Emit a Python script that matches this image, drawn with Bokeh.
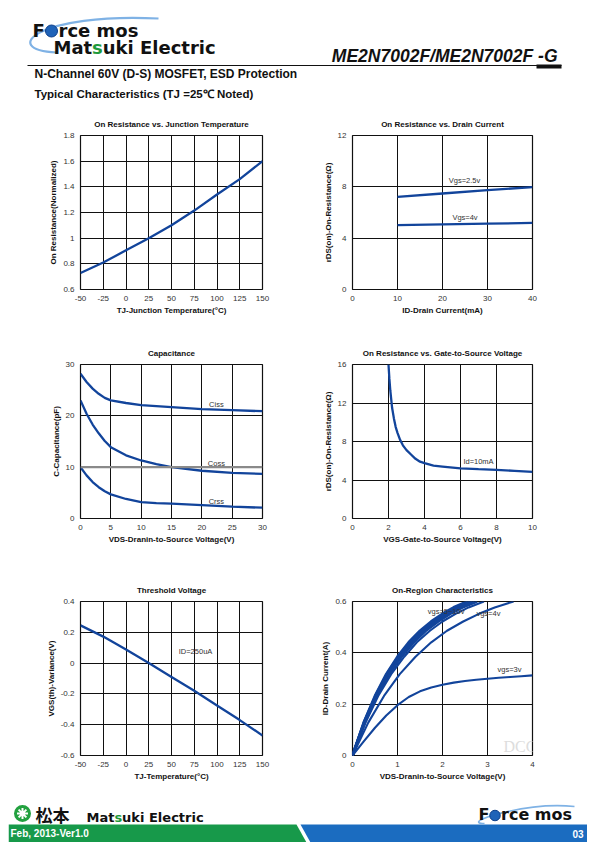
from bokeh.plotting import figure
from bokeh.layouts import column, row
from bokeh.models import Range1d, FixedTicker, NumeralTickFormatter, Span, Label
from bokeh.core.properties import value
from bokeh.embed import file_html
from bokeh.resources import INLINE

# ---------------- data ----------------
# Chart 1: On Resistance vs. Junction Temperature
tj1 = [-50, -25, 0, 25, 50, 75, 100, 125, 150]
rdson_norm = [0.728, 0.81, 0.905, 1.0, 1.1, 1.215, 1.34, 1.46, 1.6]

# Chart 2: On Resistance vs. Drain Current
id2 = [10, 20, 30, 40]
r_vgs25 = [7.22, 7.48, 7.74, 7.98]
r_vgs4 = [5.01, 5.07, 5.13, 5.19]

# Chart 3: Capacitance
vds3 = [0, 1, 2, 3, 4, 5, 7.5, 10, 12.5, 15, 20, 25, 30]
ciss = [28.2, 26.6, 25.3, 24.3, 23.5, 23.0, 22.5, 22.1, 21.9, 21.7, 21.3, 21.1, 20.9]
coss = [23.0, 20.4, 18.3, 16.6, 15.1, 13.9, 12.3, 11.3, 10.6, 10.0, 9.3, 8.9, 8.7]
crss = [10.0, 8.4, 7.1, 6.1, 5.3, 4.7, 3.8, 3.2, 3.0, 2.9, 2.6, 2.3, 2.1]

# Chart 4: On Resistance vs. Gate-to-Source Voltage
vgs4 = [2.0, 2.05, 2.1, 2.2, 2.3, 2.4, 2.5, 2.65, 2.8, 3.0, 3.25, 3.5, 3.75, 4.0, 4.5, 5, 6, 7, 8, 9, 10]
rds4 = [16, 14.5, 13.3, 11.5, 10.4, 9.5, 8.9, 8.15, 7.6, 7.1, 6.65, 6.2, 5.9, 5.75, 5.5, 5.4, 5.2, 5.12, 5.05, 4.95, 4.85]

# Chart 5: Threshold Voltage
tj5 = [-50, -25, 0, 25, 50, 75, 100, 125, 150]
vth_var = [0.245, 0.172, 0.088, 0.0, -0.09, -0.18, -0.275, -0.37, -0.47]

# Chart 6: On-Region Characteristics
id6 = [0, 0.128, 0.232, 0.317, 0.385, 0.441, 0.486, 0.522, 0.552, 0.577, 0.6]
vds6_10v = [0, 0.25, 0.5, 0.75, 1.0, 1.25, 1.5, 1.75, 2.0, 2.25, 2.55]
vds6_8v = [0, 0.255, 0.51, 0.765, 1.02, 1.275, 1.53, 1.785, 2.04, 2.295, 2.6]
vds6_7v = [0, 0.26, 0.52, 0.78, 1.04, 1.3, 1.56, 1.82, 2.08, 2.34, 2.65]
vds6_6v = [0, 0.265, 0.53, 0.795, 1.06, 1.325, 1.59, 1.855, 2.12, 2.385, 2.7]
vds6_5v = [0, 0.27, 0.54, 0.81, 1.09, 1.36, 1.63, 1.9, 2.17, 2.44, 2.77]
vds6_45v = [0, 0.29, 0.57, 0.86, 1.15, 1.43, 1.72, 2.0, 2.29, 2.58, 2.92]
vds6_4v = [0, 0.35, 0.7, 1.05, 1.4, 1.75, 2.1, 2.46, 2.81, 3.16, 3.58]
vds6_3v = [0, 0.25, 0.5, 0.75, 1.0, 1.25, 1.5, 1.75, 2.0, 2.25, 2.5, 2.75, 3.0, 3.25, 3.5, 3.75, 4.0]
id6_3v = [0, 0.055, 0.108, 0.156, 0.196, 0.228, 0.25, 0.265, 0.276, 0.284, 0.29, 0.295, 0.299, 0.303, 0.306, 0.309, 0.312]

FONT = "Liberation Sans"
BLUE = "#12449b"


def chart(w, h, mbl, mbr, mbt, mbb, xr, yr, xt, yt, title, xlab, ylab, xfmt="0", yfmt="0.[0]"):
    p = figure(width=w, height=h, x_range=Range1d(*xr), y_range=Range1d(*yr),
               output_backend="svg", toolbar_location=None,
               min_border_left=mbl, min_border_right=mbr,
               min_border_top=mbt, min_border_bottom=mbb, title=title)
    p.title.align = "center"
    p.title.text_font = FONT
    p.title.text_font_size = "8px"
    p.title.text_font_style = "bold"
    p.title.text_color = "#111111"
    p.title.standoff = 14
    p.xaxis.ticker = FixedTicker(ticks=xt)
    p.yaxis.ticker = FixedTicker(ticks=yt)
    p.xaxis.formatter = NumeralTickFormatter(format=xfmt)
    p.yaxis.formatter = NumeralTickFormatter(format=yfmt)
    p.xaxis.axis_label = xlab
    p.yaxis.axis_label = ylab
    for ax in (p.xaxis, p.yaxis):
        ax.major_tick_line_color = None
        ax.minor_tick_line_color = None
        ax.axis_line_color = None
        ax.major_label_text_font = FONT
        ax.major_label_text_font_size = "8px"
        ax.major_label_text_color = "#333333"
        ax.major_label_standoff = 0
        ax.axis_label_text_font = FONT
        ax.axis_label_text_font_size = "8px"
        ax.axis_label_text_font_style = "bold"
        ax.axis_label_text_color = "#111111"
        ax.axis_label_standoff = 2
    p.yaxis.major_label_orientation = "horizontal"
    p.grid.grid_line_color = "#111111"
    p.grid.grid_line_width = 1
    p.outline_line_color = "#111111"
    p.outline_line_width = 1.2
    p.background_fill_color = "white"
    p.border_fill_color = "white"
    return p


def lab(p, x, y, t, size="7.5px"):
    p.text(x=[x], y=[y], text=[t], text_font=value(FONT), text_font_size=size,
           text_color="#333333", text_align="center", text_baseline="middle")


# layout geometry (left col 282 wide, right col 297 wide)
LW, RW = 282, 297

# Row 1
c1 = chart(LW, 227, 72, 28, 27, 46, (-50, 150), (0.6, 1.8), tj1, [0.6, 0.8, 1.0, 1.2, 1.4, 1.6, 1.8],
           "On Resistance vs. Junction Temperature", "TJ-Junction Temperature(°C)", "On Resistance(Normalized)")
c1.line(tj1, rdson_norm, line_color=BLUE, line_width=2.3)

c2 = chart(RW, 227, 62, 55, 27, 46, (0, 40), (0, 12), [0, 10, 20, 30, 40], [0, 4, 8, 12],
           "On Resistance vs. Drain Current", "ID-Drain Current(mA)", "rDS(on)-On-Resistance(Ω)")
c2.line(id2, r_vgs25, line_color=BLUE, line_width=2.3)
c2.line(id2, r_vgs4, line_color=BLUE, line_width=2.3)
lab(c2, 24.9, 8.46, "Vgs=2.5v")
lab(c2, 25.0, 5.63, "Vgs=4v")

# Row 2
c3 = chart(LW, 240, 72, 28, 29, 57, (0, 30), (0, 30), [0, 5, 10, 15, 20, 25, 30], [0, 10, 20, 30],
           "Capacitance", "VDS-Dranin-to-Source Voltage(V)", "C-Capacitance(pF)")
c3.add_layout(Span(location=10, dimension="width", line_color="#8a8a8a", line_width=2.2))
c3.line(vds3, ciss, line_color=BLUE, line_width=2.3)
c3.line(vds3, coss, line_color=BLUE, line_width=2.3)
c3.line(vds3, crss, line_color=BLUE, line_width=2.3)
lab(c3, 22.4, 22.2, "Ciss")
lab(c3, 22.4, 10.8, "Coss")
lab(c3, 22.4, 3.35, "Crss")

c4 = chart(RW, 240, 62, 55, 29, 57, (0, 10), (0, 16), [0, 2, 4, 6, 8, 10], [0, 4, 8, 12, 16],
           "On Resistance vs. Gate-to-Source Voltage", "VGS-Gate-to-Source Voltage(V)", "rDS(on)-On-Resistance(Ω)")
c4.line(vgs4, rds4, line_color=BLUE, line_width=2.3)
lab(c4, 7.0, 5.91, "Id=10mA")

# Row 3
c5 = chart(LW, 225, 72, 28, 26, 45, (-50, 150), (-0.6, 0.4), tj5, [-0.6, -0.4, -0.2, 0, 0.2, 0.4],
           "Threshold Voltage", "TJ-Temperature(°C)", "VGS(th)-Variance(V)")
c5.line(tj5, vth_var, line_color=BLUE, line_width=2.3)
lab(c5, 76.4, 0.077, "ID=250uA")

c6 = chart(RW, 225, 62, 55, 26, 45, (0, 4), (0, 0.6), [0, 1, 2, 3, 4], [0, 0.2, 0.4, 0.6],
           "On-Region Characteristics", "VDS-Dranin-to-Source Voltage(V)", "ID-Drain Current(A)")
for xs in (vds6_10v, vds6_8v, vds6_7v, vds6_6v, vds6_5v):
    c6.line(xs, id6, line_color=BLUE, line_width=2.8, line_join="round")
c6.line(vds6_45v, id6, line_color=BLUE, line_width=2.1, line_join="round")
c6.line(vds6_4v, id6, line_color=BLUE, line_width=2.1, line_join="round")
c6.line(vds6_3v, id6_3v, line_color=BLUE, line_width=2.1, line_join="round")
lab(c6, 2.08, 0.56, "vgs=5~10v")
lab(c6, 3.02, 0.552, "vgs=4v")
lab(c6, 3.49, 0.335, "vgs=3v")
c6.add_layout(Label(x=3.72, y=0.035, text="DCC", text_font="Liberation Serif", text_font_size="16px",
                    text_color="#dddddd", text_align="center", text_baseline="middle"))

# ---------------- header ----------------
hdr = figure(width=579, height=100, x_range=Range1d(0, 579), y_range=Range1d(100, 0),
             output_backend="svg", toolbar_location=None, min_border=0,
             x_axis_location=None, y_axis_location=None)
hdr.grid.visible = False
hdr.outline_line_color = None
hdr.bezier(x0=[48], y0=[44], x1=[150], y1=[10], cx0=[-10], cy0=[41], cx1=[30], cy1=[4],
           line_color="#7fb2e5", line_width=2.2)
hdr.text(x=[24], y=[21.5], text=["F"], text_font=value("DejaVu Sans"), text_font_style="bold",
         text_font_size="18px", text_color="#111111", text_baseline="middle")
hdr.scatter(x=[43], y=[22.5], size=12, marker="circle", fill_color="#1f63b8", line_color="#0d3f8a")
hdr.text(x=[50], y=[21.5], text=["rce mos"], text_font=value("DejaVu Sans"), text_font_style="bold",
         text_font_size="18px", text_color="#111111", text_baseline="middle")
hdr.text(x=[45, 83.6, 94.3], y=[38.5, 38.5, 38.5], text=["Mat", "s", "uki Electric"],
         text_font=value("DejaVu Sans"), text_font_style="bold", text_font_size="18px",
         text_color=["#111111", "#1e9a3c", "#111111"], text_baseline="middle")
hdr.text(x=[549], y=[47], text=["ME2N7002F/ME2N7002F -G"], text_font=value(FONT),
         text_font_style="bold italic", text_font_size="17.5px", text_color="#111111",
         text_align="right", text_baseline="middle")
hdr.segment(x0=[19], y0=[57], x1=[553], y1=[57], line_color="#111111", line_width=1)
hdr.quad(left=[528], right=[553], top=[56], bottom=[60], fill_color="#111111", line_color=None)
hdr.text(x=[26], y=[65.5], text=["N-Channel 60V (D-S) MOSFET, ESD Protection"], text_font=value(FONT),
         text_font_style="bold", text_font_size="12px", text_color="#111111", text_baseline="middle")
hdr.text(x=[26], y=[85.5], text=["Typical Characteristics (TJ =25℃ Noted)"], text_font=value(FONT),
         text_font_style="bold", text_font_size="11.5px", text_color="#111111", text_baseline="middle")

# ---------------- footer ----------------
ftr = figure(width=579, height=42, x_range=Range1d(0, 579), y_range=Range1d(42, 0),
             output_backend="svg", toolbar_location=None, min_border=0,
             x_axis_location=None, y_axis_location=None)
ftr.grid.visible = False
ftr.outline_line_color = None
ftr.patch(x=[0, 288, 298, 0], y=[24, 24, 42, 42], fill_color="#17994a", line_color=None)
ftr.patch(x=[292, 579, 579, 302], y=[24, 24, 42, 42], fill_color="#1b6cc0", line_color=None)
ftr.text(x=[2], y=[33], text=["Feb, 2013-Ver1.0"], text_font=value(FONT), text_font_style="bold",
         text_font_size="10px", text_color="white", text_baseline="middle")
ftr.text(x=[575], y=[33], text=["03"], text_font=value(FONT), text_font_style="bold",
         text_font_size="10px", text_color="white", text_align="right", text_baseline="middle")
ftr.scatter(x=[14], y=[13], size=17, marker="circle", fill_color="#22a13f", line_color=None)
ftr.scatter(x=[14], y=[13], size=11, marker="asterisk", line_color="white", line_width=2)
ftr.text(x=[27], y=[14], text=["松本"], text_font=value("Noto Sans CJK JP"), text_font_style="bold",
         text_font_size="17px", text_color="#111111", text_baseline="middle")
ftr.text(x=[78, 105.9, 113.6], y=[17, 17, 17], text=["Mat", "s", "uki Electric"],
         text_font=value("DejaVu Sans"), text_font_style="bold", text_font_size="13px",
         text_color=["#111111", "#1e9a3c", "#111111"], text_baseline="middle")
ftr.bezier(x0=[476], y0=[23], x1=[566], y1=[6], cx0=[450], cy0=[23], cx1=[516], cy1=[1],
           line_color="#7fb2e5", line_width=1.6)
ftr.text(x=[470], y=[14], text=["F"], text_font=value("DejaVu Sans"), text_font_style="bold",
         text_font_size="16px", text_color="#111111", text_baseline="middle")
ftr.scatter(x=[486.5], y=[15], size=10.5, marker="circle", fill_color="#1f63b8", line_color="#0d3f8a")
ftr.text(x=[492.5], y=[14], text=["rce mos"], text_font=value("DejaVu Sans"), text_font_style="bold",
         text_font_size="16px", text_color="#111111", text_baseline="middle")

layout = column(hdr, row(c1, c2), row(c3, c4), row(c5, c6), ftr, margin=(8, 8, 0, 8))
open("out.html", "w").write(file_html(layout, INLINE))
